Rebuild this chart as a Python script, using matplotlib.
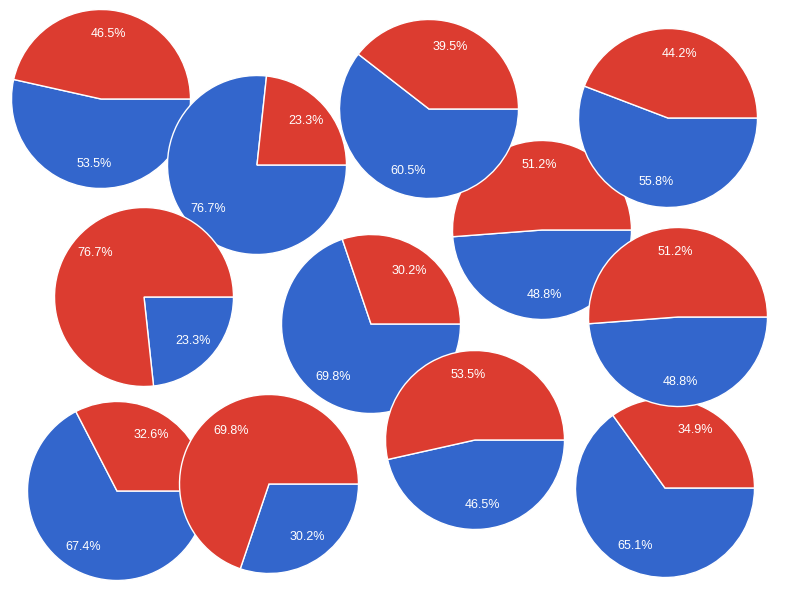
import matplotlib
matplotlib.use("Agg")
import matplotlib.pyplot as plt

# one entry per pie, listed in drawing order (later pies sit on top)
blue_share = [48.8, 65.1, 53.5, 76.7, 60.5, 55.8, 23.3, 69.8, 48.8, 67.4, 30.2, 46.5]
red_share = [51.2, 34.9, 46.5, 23.3, 39.5, 44.2, 76.7, 30.2, 51.2, 32.6, 69.8, 53.5]

# pie centres in pixels (x from left, y from top)
pie_centers = [(542, 230), (665, 488), (101, 99), (257, 165), (429, 109), (668, 118),
               (144, 297), (371, 324), (678, 317), (117, 491), (269, 484), (475, 440)]
radius = 89.5

blue = '#3366CC'
red = '#DC3C30'

fig = plt.figure(figsize=(8, 6), dpi=100)
ax = fig.add_axes([0, 0, 1, 1])

for i, (b, r) in enumerate(zip(blue_share, red_share)):
    cx, cy = pie_centers[i]
    ax.pie([b, r], colors=[blue, red], center=(cx, 600 - cy), radius=radius,
           startangle=0, counterclock=False, frame=True,
           autopct='%.1f%%', pctdistance=0.73,
           wedgeprops={'edgecolor': 'white', 'linewidth': 1, 'zorder': 2 * i + 1},
           textprops={'color': 'white', 'fontsize': 9,
                      'family': 'Liberation Sans', 'zorder': 2 * i + 2})

ax.set_xlim(0, 800)
ax.set_ylim(0, 600)
ax.set_aspect('equal')
ax.axis('off')

fig.savefig('out.png', dpi=100, facecolor='white')
